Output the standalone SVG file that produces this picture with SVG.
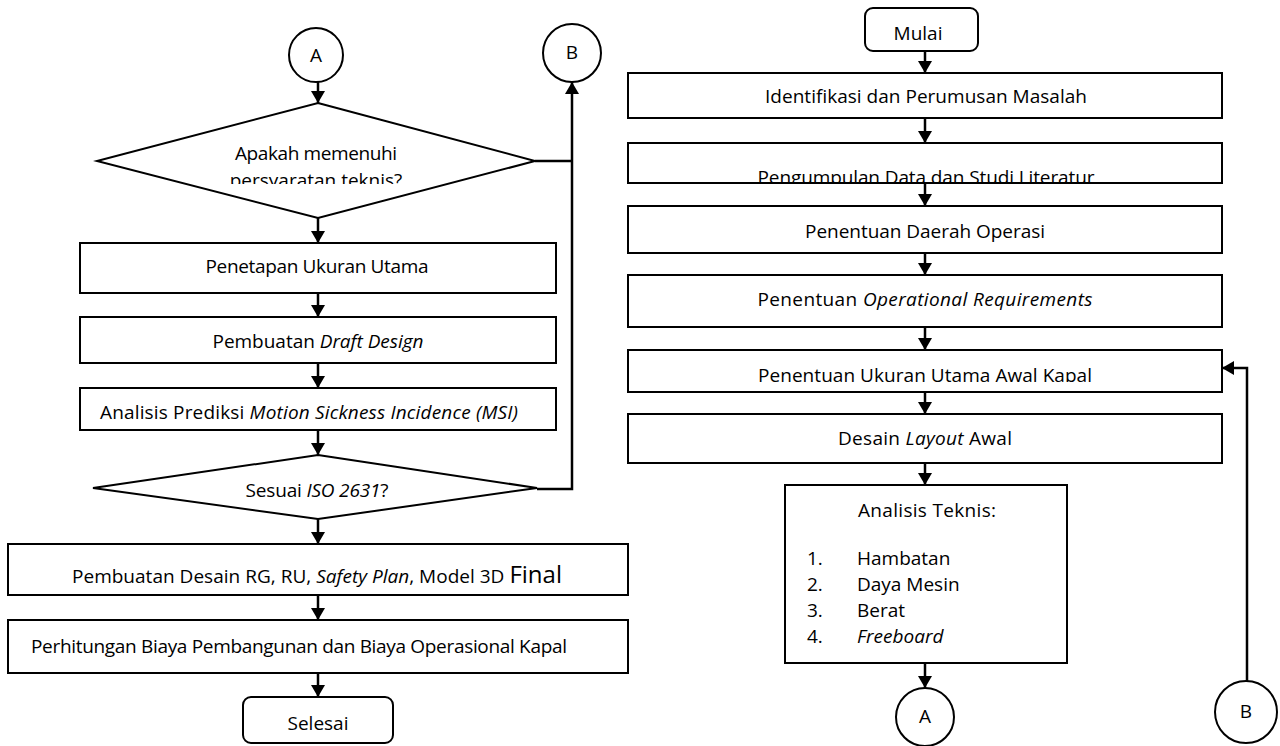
<svg xmlns="http://www.w3.org/2000/svg" width="1280" height="746" viewBox="0 0 1280 746">
<style>
.box{fill:#fff;stroke:#000;stroke-width:2}
.con{fill:none;stroke:#000;stroke-width:2.5}
text{font-family:"Open Sans","Liberation Sans",sans-serif;font-size:19px;fill:#000}
.c{text-anchor:middle}
.i{font-style:italic}
</style>
<defs>
<marker id="ah" viewBox="0 0 12 14" refX="12" refY="7" markerWidth="12" markerHeight="14" markerUnits="userSpaceOnUse" orient="auto">
<path d="M0,0 L12,7 L0,14 Z" fill="#000"/>
</marker>
<clipPath id="clipD1"><rect x="0" y="0" width="640" height="184"/></clipPath>
<clipPath id="clipR2"><rect x="600" y="0" width="680" height="183"/></clipPath>
<clipPath id="clipR5"><rect x="600" y="0" width="680" height="382"/></clipPath>
<clipPath id="clipL3"><rect x="0" y="0" width="640" height="422"/></clipPath>
</defs>
<rect width="1280" height="746" fill="#fff"/>

<g id="connectors">
<line class="con" x1="318" y1="82" x2="318" y2="103" marker-end="url(#ah)"/>
<line class="con" x1="318" y1="218" x2="318" y2="243" marker-end="url(#ah)"/>
<line class="con" x1="318" y1="293" x2="318" y2="317" marker-end="url(#ah)"/>
<line class="con" x1="318" y1="363" x2="318" y2="388" marker-end="url(#ah)"/>
<line class="con" x1="318" y1="430" x2="318" y2="455" marker-end="url(#ah)"/>
<line class="con" x1="318" y1="519" x2="318" y2="544" marker-end="url(#ah)"/>
<line class="con" x1="318" y1="595" x2="318" y2="620" marker-end="url(#ah)"/>
<line class="con" x1="318" y1="673" x2="318" y2="697" marker-end="url(#ah)"/>
<line class="con" x1="535" y1="161" x2="572" y2="161"/>
<polyline class="con" points="537,489 572,489 572,82" marker-end="url(#ah)"/>
<line class="con" x1="925" y1="51" x2="925" y2="73" marker-end="url(#ah)"/>
<line class="con" x1="925" y1="118" x2="925" y2="143" marker-end="url(#ah)"/>
<line class="con" x1="925" y1="183" x2="925" y2="206" marker-end="url(#ah)"/>
<line class="con" x1="925" y1="253" x2="925" y2="275" marker-end="url(#ah)"/>
<line class="con" x1="925" y1="327" x2="925" y2="350" marker-end="url(#ah)"/>
<line class="con" x1="925" y1="392" x2="925" y2="414" marker-end="url(#ah)"/>
<line class="con" x1="925" y1="463" x2="925" y2="485" marker-end="url(#ah)"/>
<line class="con" x1="925" y1="663" x2="925" y2="688" marker-end="url(#ah)"/>
<polyline class="con" points="1247,681 1247,368 1222,368" marker-end="url(#ah)"/>
</g>

<g id="connA-top"><circle class="box" cx="316" cy="55" r="27"/><text class="c" x="316" y="62">A</text></g>
<g id="connB-top"><circle class="box" cx="572" cy="53" r="29"/><text class="c" x="572" y="59">B</text></g>

<g id="dec1">
<polygon class="box" points="318,103 535,161 318,218 97,161"/>
<text class="c" x="316" y="160" textLength="162">Apakah memenuhi</text>
<text class="c" x="316" y="187" clip-path="url(#clipD1)">persyaratan teknis?</text>
</g>

<g id="n-penetapan"><rect class="box" x="80" y="243" width="476" height="50"/><text class="c" x="317" y="273" textLength="223">Penetapan Ukuran Utama</text></g>
<g id="n-draft"><rect class="box" x="80" y="317" width="476" height="46"/><text class="c" x="318" y="348" textLength="211">Pembuatan <tspan class="i">Draft Design</tspan></text></g>
<g id="n-msi"><rect class="box" x="80" y="388" width="476" height="42"/><text x="100" y="419" textLength="418" clip-path="url(#clipL3)">Analisis Prediksi <tspan class="i">Motion Sickness Incidence (MSI)</tspan></text></g>

<g id="dec2">
<polygon class="box" points="318,455 537,488 318,519 93,488"/>
<text class="c" x="317" y="497" textLength="143">Sesuai <tspan class="i">ISO 2631</tspan>?</text>
</g>

<g id="n-desain"><rect class="box" x="8" y="544" width="620" height="51"/><text class="c" x="317" y="583" textLength="490">Pembuatan Desain RG, RU, <tspan class="i">Safety Plan</tspan>, Model 3D <tspan font-size="24">Final</tspan></text></g>
<g id="n-biaya"><rect class="box" x="8" y="620" width="620" height="53"/><text x="31" y="653" textLength="536">Perhitungan Biaya Pembangunan dan Biaya Operasional Kapal</text></g>
<g id="n-selesai"><rect class="box" x="243" y="697" width="150" height="46" rx="8"/><text class="c" x="318" y="730">Selesai</text></g>

<g id="n-mulai"><rect class="box" x="865" y="8" width="113" height="43" rx="8"/><text class="c" x="918" y="40">Mulai</text></g>
<g id="n-identifikasi"><rect class="box" x="628" y="73" width="594" height="45"/><text class="c" x="926" y="103" textLength="322">Identifikasi dan Perumusan Masalah</text></g>
<g id="n-pengumpulan"><rect class="box" x="628" y="143" width="594" height="40"/><text class="c" x="926" y="184" textLength="337" clip-path="url(#clipR2)">Pengumpulan Data dan Studi Literatur</text></g>
<g id="n-daerah"><rect class="box" x="628" y="206" width="594" height="47"/><text class="c" x="925" y="238" textLength="240">Penentuan Daerah Operasi</text></g>
<g id="n-opreq"><rect class="box" x="628" y="275" width="594" height="52"/><text class="c" x="925" y="306" textLength="335">Penentuan <tspan class="i">Operational Requirements</tspan></text></g>
<g id="n-ukuran"><rect class="box" x="628" y="350" width="594" height="42"/><text class="c" x="925" y="382" textLength="334" clip-path="url(#clipR5)">Penentuan Ukuran Utama Awal Kapal</text></g>
<g id="n-layout"><rect class="box" x="628" y="414" width="594" height="49"/><text class="c" x="925" y="445" textLength="174">Desain <tspan class="i">Layout</tspan> Awal</text></g>

<g id="n-teknis">
<rect class="box" x="785" y="485" width="282" height="178"/>
<text class="c" x="927" y="517" textLength="138">Analisis Teknis:</text>
<text x="807" y="565">1.</text><text x="857" y="565">Hambatan</text>
<text x="807" y="591">2.</text><text x="857" y="591">Daya Mesin</text>
<text x="807" y="617">3.</text><text x="857" y="617">Berat</text>
<text x="807" y="643">4.</text><text x="857" y="643" class="i">Freeboard</text>
</g>

<g id="connA-bottom"><circle class="box" cx="925" cy="717" r="29"/><text class="c" x="925" y="723">A</text></g>
<g id="connB-bottom"><circle class="box" cx="1246" cy="712" r="31"/><text class="c" x="1246" y="718">B</text></g>
</svg>
